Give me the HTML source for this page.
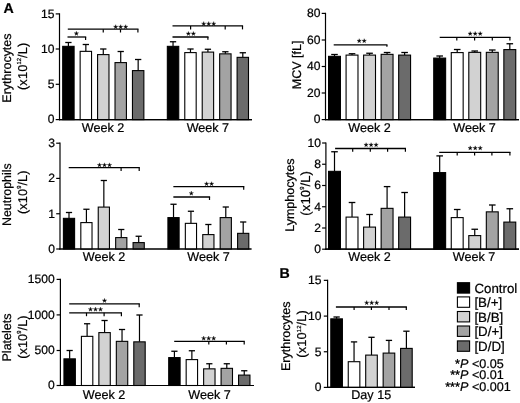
<!DOCTYPE html>
<html><head><meta charset="utf-8"><title>Figure</title>
<style>html,body{margin:0;padding:0;background:#fff;}body{width:520px;height:403px;overflow:hidden;font-family:"Liberation Sans",sans-serif;}</style>
</head><body>
<svg width="520" height="403" viewBox="0 0 520 403" style="display:block;font-family:'Liberation Sans',sans-serif;will-change:transform" fill="#000" text-rendering="geometricPrecision"><g stroke="#000" stroke-width="0.22">
<rect width="520" height="403" fill="#fff" stroke="none"/>
<line x1="59.50" y1="13.30" x2="59.50" y2="120.20" stroke="#000" stroke-width="1.2" stroke-linecap="butt"/>
<line x1="58.90" y1="119.60" x2="252.00" y2="119.60" stroke="#000" stroke-width="1.2" stroke-linecap="butt"/>
<line x1="55.70" y1="119.60" x2="59.50" y2="119.60" stroke="#000" stroke-width="1.2" stroke-linecap="butt"/>
<text x="54.50" y="123.35" font-size="12.1" text-anchor="end" font-weight="normal" font-style="normal">0</text>
<line x1="55.70" y1="84.30" x2="59.50" y2="84.30" stroke="#000" stroke-width="1.2" stroke-linecap="butt"/>
<text x="54.50" y="88.05" font-size="12.1" text-anchor="end" font-weight="normal" font-style="normal">5</text>
<line x1="55.70" y1="49.00" x2="59.50" y2="49.00" stroke="#000" stroke-width="1.2" stroke-linecap="butt"/>
<text x="54.50" y="52.75" font-size="12.1" text-anchor="end" font-weight="normal" font-style="normal">10</text>
<line x1="55.70" y1="13.90" x2="59.50" y2="13.90" stroke="#000" stroke-width="1.2" stroke-linecap="butt"/>
<text x="54.50" y="17.65" font-size="12.1" text-anchor="end" font-weight="normal" font-style="normal">15</text>
<line x1="68.40" y1="42.50" x2="68.40" y2="46.25" stroke="#000" stroke-width="1.2" stroke-linecap="butt"/>
<line x1="65.25" y1="42.50" x2="71.55" y2="42.50" stroke="#000" stroke-width="1.3" stroke-linecap="butt"/>
<rect x="62.70" y="46.35" width="11.40" height="73.25" fill="#000000" stroke="#000" stroke-width="1.1"/>
<line x1="85.84" y1="44.50" x2="85.84" y2="51.25" stroke="#000" stroke-width="1.2" stroke-linecap="butt"/>
<line x1="82.69" y1="44.50" x2="88.99" y2="44.50" stroke="#000" stroke-width="1.3" stroke-linecap="butt"/>
<rect x="80.14" y="51.35" width="11.40" height="68.25" fill="#ffffff" stroke="#000" stroke-width="1.1"/>
<line x1="103.28" y1="49.00" x2="103.28" y2="54.50" stroke="#000" stroke-width="1.2" stroke-linecap="butt"/>
<line x1="100.13" y1="49.00" x2="106.43" y2="49.00" stroke="#000" stroke-width="1.3" stroke-linecap="butt"/>
<rect x="97.58" y="54.60" width="11.40" height="65.00" fill="#d2d2d2" stroke="#000" stroke-width="1.1"/>
<line x1="120.72" y1="51.50" x2="120.72" y2="62.50" stroke="#000" stroke-width="1.2" stroke-linecap="butt"/>
<line x1="117.57" y1="51.50" x2="123.87" y2="51.50" stroke="#000" stroke-width="1.3" stroke-linecap="butt"/>
<rect x="115.02" y="62.60" width="11.40" height="57.00" fill="#a3a3a3" stroke="#000" stroke-width="1.1"/>
<line x1="138.16" y1="59.50" x2="138.16" y2="70.50" stroke="#000" stroke-width="1.2" stroke-linecap="butt"/>
<line x1="135.01" y1="59.50" x2="141.31" y2="59.50" stroke="#000" stroke-width="1.3" stroke-linecap="butt"/>
<rect x="132.46" y="70.60" width="11.40" height="49.00" fill="#6b6b6b" stroke="#000" stroke-width="1.1"/>
<line x1="173.04" y1="41.75" x2="173.04" y2="46.25" stroke="#000" stroke-width="1.2" stroke-linecap="butt"/>
<line x1="169.89" y1="41.75" x2="176.19" y2="41.75" stroke="#000" stroke-width="1.3" stroke-linecap="butt"/>
<rect x="167.34" y="46.35" width="11.40" height="73.25" fill="#000000" stroke="#000" stroke-width="1.1"/>
<line x1="190.48" y1="49.00" x2="190.48" y2="52.50" stroke="#000" stroke-width="1.2" stroke-linecap="butt"/>
<line x1="187.33" y1="49.00" x2="193.63" y2="49.00" stroke="#000" stroke-width="1.3" stroke-linecap="butt"/>
<rect x="184.78" y="52.60" width="11.40" height="67.00" fill="#ffffff" stroke="#000" stroke-width="1.1"/>
<line x1="207.92" y1="49.25" x2="207.92" y2="52.00" stroke="#000" stroke-width="1.2" stroke-linecap="butt"/>
<line x1="204.77" y1="49.25" x2="211.07" y2="49.25" stroke="#000" stroke-width="1.3" stroke-linecap="butt"/>
<rect x="202.22" y="52.10" width="11.40" height="67.50" fill="#d2d2d2" stroke="#000" stroke-width="1.1"/>
<line x1="225.36" y1="51.75" x2="225.36" y2="53.75" stroke="#000" stroke-width="1.2" stroke-linecap="butt"/>
<line x1="222.21" y1="51.75" x2="228.51" y2="51.75" stroke="#000" stroke-width="1.3" stroke-linecap="butt"/>
<rect x="219.66" y="53.85" width="11.40" height="65.75" fill="#a3a3a3" stroke="#000" stroke-width="1.1"/>
<line x1="242.80" y1="52.75" x2="242.80" y2="57.25" stroke="#000" stroke-width="1.2" stroke-linecap="butt"/>
<line x1="239.65" y1="52.75" x2="245.95" y2="52.75" stroke="#000" stroke-width="1.3" stroke-linecap="butt"/>
<rect x="237.10" y="57.35" width="11.40" height="62.25" fill="#6b6b6b" stroke="#000" stroke-width="1.1"/>
<line x1="58.90" y1="119.60" x2="252.00" y2="119.60" stroke="#000" stroke-width="1.2" stroke-linecap="butt"/>
<text x="103.10" y="131.95" font-size="12.6" text-anchor="middle" font-weight="normal" font-style="normal">Week 2</text>
<text x="207.90" y="131.95" font-size="12.6" text-anchor="middle" font-weight="normal" font-style="normal">Week 7</text>
<text x="10.70" y="68.10" font-size="12.45" text-anchor="middle" font-weight="normal" font-style="normal" transform="rotate(-90 10.70 68.10)">Erythrocytes</text>
<text x="26.80" y="66.30" font-size="12.799999999999999" text-anchor="middle" font-weight="normal" font-style="normal" transform="rotate(-90 26.80 66.30)" letter-spacing="0.15">(x10<tspan font-size="5.9" dy="-5.9" letter-spacing="0">12</tspan><tspan dy="5.9">/L)</tspan></text>
<line x1="67.80" y1="29.20" x2="138.50" y2="29.20" stroke="#000" stroke-width="1.3" stroke-linecap="butt"/>
<line x1="103.25" y1="29.20" x2="103.25" y2="32.50" stroke="#000" stroke-width="1.2" stroke-linecap="butt"/>
<line x1="120.50" y1="29.20" x2="120.50" y2="32.50" stroke="#000" stroke-width="1.2" stroke-linecap="butt"/>
<line x1="137.90" y1="29.20" x2="137.90" y2="32.50" stroke="#000" stroke-width="1.2" stroke-linecap="butt"/>
<polygon points="115.70,24.64 116.20,26.25 117.89,26.23 116.51,27.20 117.05,28.80 115.70,27.79 114.35,28.80 114.89,27.20 113.51,26.23 115.20,26.25" fill="#000" stroke="#000" stroke-width="0.3" stroke-linejoin="miter"/>
<polygon points="120.70,24.64 121.20,26.25 122.89,26.23 121.51,27.20 122.05,28.80 120.70,27.79 119.35,28.80 119.89,27.20 118.51,26.23 120.20,26.25" fill="#000" stroke="#000" stroke-width="0.3" stroke-linejoin="miter"/>
<polygon points="125.70,24.64 126.20,26.25 127.89,26.23 126.51,27.20 127.05,28.80 125.70,27.79 124.35,28.80 124.89,27.20 123.51,26.23 125.20,26.25" fill="#000" stroke="#000" stroke-width="0.3" stroke-linejoin="miter"/>
<line x1="67.50" y1="37.00" x2="86.20" y2="37.00" stroke="#000" stroke-width="1.3" stroke-linecap="butt"/>
<line x1="85.60" y1="37.00" x2="85.60" y2="40.00" stroke="#000" stroke-width="1.2" stroke-linecap="butt"/>
<polygon points="76.40,31.24 76.90,32.85 78.59,32.83 77.21,33.80 77.75,35.40 76.40,34.39 75.05,35.40 75.59,33.80 74.21,32.83 75.90,32.85" fill="#000" stroke="#000" stroke-width="0.3" stroke-linejoin="miter"/>
<line x1="172.50" y1="25.90" x2="243.10" y2="25.90" stroke="#000" stroke-width="1.3" stroke-linecap="butt"/>
<line x1="190.60" y1="25.90" x2="190.60" y2="29.40" stroke="#000" stroke-width="1.2" stroke-linecap="butt"/>
<line x1="225.20" y1="25.90" x2="225.20" y2="29.40" stroke="#000" stroke-width="1.2" stroke-linecap="butt"/>
<line x1="242.50" y1="25.90" x2="242.50" y2="29.40" stroke="#000" stroke-width="1.2" stroke-linecap="butt"/>
<polygon points="203.70,21.54 204.20,23.15 205.89,23.13 204.51,24.10 205.05,25.70 203.70,24.69 202.35,25.70 202.89,24.10 201.51,23.13 203.20,23.15" fill="#000" stroke="#000" stroke-width="0.3" stroke-linejoin="miter"/>
<polygon points="208.70,21.54 209.20,23.15 210.89,23.13 209.51,24.10 210.05,25.70 208.70,24.69 207.35,25.70 207.89,24.10 206.51,23.13 208.20,23.15" fill="#000" stroke="#000" stroke-width="0.3" stroke-linejoin="miter"/>
<polygon points="213.70,21.54 214.20,23.15 215.89,23.13 214.51,24.10 215.05,25.70 213.70,24.69 212.35,25.70 212.89,24.10 211.51,23.13 213.20,23.15" fill="#000" stroke="#000" stroke-width="0.3" stroke-linejoin="miter"/>
<line x1="172.50" y1="37.00" x2="208.50" y2="37.00" stroke="#000" stroke-width="1.3" stroke-linecap="butt"/>
<line x1="207.90" y1="37.00" x2="207.90" y2="39.80" stroke="#000" stroke-width="1.2" stroke-linecap="butt"/>
<polygon points="188.40,31.44 188.90,33.05 190.59,33.03 189.21,34.00 189.75,35.60 188.40,34.59 187.05,35.60 187.59,34.00 186.21,33.03 187.90,33.05" fill="#000" stroke="#000" stroke-width="0.3" stroke-linejoin="miter"/>
<polygon points="193.40,31.44 193.90,33.05 195.59,33.03 194.21,34.00 194.75,35.60 193.40,34.59 192.05,35.60 192.59,34.00 191.21,33.03 192.90,33.05" fill="#000" stroke="#000" stroke-width="0.3" stroke-linejoin="miter"/>
<text x="3.50" y="12.70" font-size="14.2" text-anchor="start" font-weight="bold" font-style="normal">A</text>
<line x1="325.50" y1="12.80" x2="325.50" y2="120.20" stroke="#000" stroke-width="1.2" stroke-linecap="butt"/>
<line x1="324.90" y1="119.60" x2="519.00" y2="119.60" stroke="#000" stroke-width="1.2" stroke-linecap="butt"/>
<line x1="321.70" y1="119.60" x2="325.50" y2="119.60" stroke="#000" stroke-width="1.2" stroke-linecap="butt"/>
<text x="320.50" y="123.35" font-size="12.1" text-anchor="end" font-weight="normal" font-style="normal">0</text>
<line x1="321.70" y1="93.00" x2="325.50" y2="93.00" stroke="#000" stroke-width="1.2" stroke-linecap="butt"/>
<text x="320.50" y="96.75" font-size="12.1" text-anchor="end" font-weight="normal" font-style="normal">20</text>
<line x1="321.70" y1="66.50" x2="325.50" y2="66.50" stroke="#000" stroke-width="1.2" stroke-linecap="butt"/>
<text x="320.50" y="70.25" font-size="12.1" text-anchor="end" font-weight="normal" font-style="normal">40</text>
<line x1="321.70" y1="40.00" x2="325.50" y2="40.00" stroke="#000" stroke-width="1.2" stroke-linecap="butt"/>
<text x="320.50" y="43.75" font-size="12.1" text-anchor="end" font-weight="normal" font-style="normal">60</text>
<line x1="321.70" y1="13.40" x2="325.50" y2="13.40" stroke="#000" stroke-width="1.2" stroke-linecap="butt"/>
<text x="320.50" y="17.15" font-size="12.1" text-anchor="end" font-weight="normal" font-style="normal">80</text>
<line x1="334.50" y1="54.50" x2="334.50" y2="56.25" stroke="#000" stroke-width="1.2" stroke-linecap="butt"/>
<line x1="331.20" y1="54.50" x2="337.80" y2="54.50" stroke="#000" stroke-width="1.3" stroke-linecap="butt"/>
<rect x="328.55" y="56.35" width="11.90" height="63.25" fill="#000000" stroke="#000" stroke-width="1.1"/>
<line x1="352.03" y1="53.75" x2="352.03" y2="55.00" stroke="#000" stroke-width="1.2" stroke-linecap="butt"/>
<line x1="348.73" y1="53.75" x2="355.33" y2="53.75" stroke="#000" stroke-width="1.3" stroke-linecap="butt"/>
<rect x="346.08" y="55.10" width="11.90" height="64.50" fill="#ffffff" stroke="#000" stroke-width="1.1"/>
<line x1="369.56" y1="53.25" x2="369.56" y2="55.00" stroke="#000" stroke-width="1.2" stroke-linecap="butt"/>
<line x1="366.26" y1="53.25" x2="372.86" y2="53.25" stroke="#000" stroke-width="1.3" stroke-linecap="butt"/>
<rect x="363.61" y="55.10" width="11.90" height="64.50" fill="#d2d2d2" stroke="#000" stroke-width="1.1"/>
<line x1="387.09" y1="52.50" x2="387.09" y2="54.25" stroke="#000" stroke-width="1.2" stroke-linecap="butt"/>
<line x1="383.79" y1="52.50" x2="390.39" y2="52.50" stroke="#000" stroke-width="1.3" stroke-linecap="butt"/>
<rect x="381.14" y="54.35" width="11.90" height="65.25" fill="#a3a3a3" stroke="#000" stroke-width="1.1"/>
<line x1="404.62" y1="52.50" x2="404.62" y2="55.00" stroke="#000" stroke-width="1.2" stroke-linecap="butt"/>
<line x1="401.32" y1="52.50" x2="407.92" y2="52.50" stroke="#000" stroke-width="1.3" stroke-linecap="butt"/>
<rect x="398.67" y="55.10" width="11.90" height="64.50" fill="#6b6b6b" stroke="#000" stroke-width="1.1"/>
<line x1="439.68" y1="56.00" x2="439.68" y2="58.00" stroke="#000" stroke-width="1.2" stroke-linecap="butt"/>
<line x1="436.38" y1="56.00" x2="442.98" y2="56.00" stroke="#000" stroke-width="1.3" stroke-linecap="butt"/>
<rect x="433.73" y="58.10" width="11.90" height="61.50" fill="#000000" stroke="#000" stroke-width="1.1"/>
<line x1="457.21" y1="49.50" x2="457.21" y2="52.50" stroke="#000" stroke-width="1.2" stroke-linecap="butt"/>
<line x1="453.91" y1="49.50" x2="460.51" y2="49.50" stroke="#000" stroke-width="1.3" stroke-linecap="butt"/>
<rect x="451.26" y="52.60" width="11.90" height="67.00" fill="#ffffff" stroke="#000" stroke-width="1.1"/>
<line x1="474.74" y1="51.00" x2="474.74" y2="52.25" stroke="#000" stroke-width="1.2" stroke-linecap="butt"/>
<line x1="471.44" y1="51.00" x2="478.04" y2="51.00" stroke="#000" stroke-width="1.3" stroke-linecap="butt"/>
<rect x="468.79" y="52.35" width="11.90" height="67.25" fill="#d2d2d2" stroke="#000" stroke-width="1.1"/>
<line x1="492.27" y1="50.00" x2="492.27" y2="52.25" stroke="#000" stroke-width="1.2" stroke-linecap="butt"/>
<line x1="488.97" y1="50.00" x2="495.57" y2="50.00" stroke="#000" stroke-width="1.3" stroke-linecap="butt"/>
<rect x="486.32" y="52.35" width="11.90" height="67.25" fill="#a3a3a3" stroke="#000" stroke-width="1.1"/>
<line x1="509.80" y1="43.75" x2="509.80" y2="49.50" stroke="#000" stroke-width="1.2" stroke-linecap="butt"/>
<line x1="506.50" y1="43.75" x2="513.10" y2="43.75" stroke="#000" stroke-width="1.3" stroke-linecap="butt"/>
<rect x="503.85" y="49.60" width="11.90" height="70.00" fill="#6b6b6b" stroke="#000" stroke-width="1.1"/>
<line x1="324.90" y1="119.60" x2="519.00" y2="119.60" stroke="#000" stroke-width="1.2" stroke-linecap="butt"/>
<text x="369.60" y="131.95" font-size="12.6" text-anchor="middle" font-weight="normal" font-style="normal">Week 2</text>
<text x="474.50" y="131.95" font-size="12.6" text-anchor="middle" font-weight="normal" font-style="normal">Week 7</text>
<text x="301.00" y="64.90" font-size="12.5" text-anchor="middle" font-weight="normal" font-style="normal" transform="rotate(-90 301.00 64.90)">MCV [fL]</text>
<line x1="333.70" y1="44.90" x2="387.50" y2="44.90" stroke="#000" stroke-width="1.3" stroke-linecap="butt"/>
<line x1="386.90" y1="44.90" x2="386.90" y2="46.70" stroke="#000" stroke-width="1.2" stroke-linecap="butt"/>
<polygon points="359.20,38.64 359.70,40.25 361.39,40.23 360.01,41.20 360.55,42.80 359.20,41.79 357.85,42.80 358.39,41.20 357.01,40.23 358.70,40.25" fill="#000" stroke="#000" stroke-width="0.3" stroke-linejoin="miter"/>
<polygon points="364.20,38.64 364.70,40.25 366.39,40.23 365.01,41.20 365.55,42.80 364.20,41.79 362.85,42.80 363.39,41.20 362.01,40.23 363.70,40.25" fill="#000" stroke="#000" stroke-width="0.3" stroke-linejoin="miter"/>
<line x1="439.70" y1="37.30" x2="510.50" y2="37.30" stroke="#000" stroke-width="1.3" stroke-linecap="butt"/>
<line x1="456.80" y1="37.30" x2="456.80" y2="40.50" stroke="#000" stroke-width="1.2" stroke-linecap="butt"/>
<line x1="474.60" y1="37.30" x2="474.60" y2="40.50" stroke="#000" stroke-width="1.2" stroke-linecap="butt"/>
<line x1="492.30" y1="37.30" x2="492.30" y2="40.50" stroke="#000" stroke-width="1.2" stroke-linecap="butt"/>
<line x1="509.90" y1="37.30" x2="509.90" y2="40.50" stroke="#000" stroke-width="1.2" stroke-linecap="butt"/>
<polygon points="470.20,31.44 470.70,33.05 472.39,33.03 471.01,34.00 471.55,35.60 470.20,34.59 468.85,35.60 469.39,34.00 468.01,33.03 469.70,33.05" fill="#000" stroke="#000" stroke-width="0.3" stroke-linejoin="miter"/>
<polygon points="475.20,31.44 475.70,33.05 477.39,33.03 476.01,34.00 476.55,35.60 475.20,34.59 473.85,35.60 474.39,34.00 473.01,33.03 474.70,33.05" fill="#000" stroke="#000" stroke-width="0.3" stroke-linejoin="miter"/>
<polygon points="480.20,31.44 480.70,33.05 482.39,33.03 481.01,34.00 481.55,35.60 480.20,34.59 478.85,35.60 479.39,34.00 478.01,33.03 479.70,33.05" fill="#000" stroke="#000" stroke-width="0.3" stroke-linejoin="miter"/>
<line x1="60.00" y1="142.60" x2="60.00" y2="249.60" stroke="#000" stroke-width="1.2" stroke-linecap="butt"/>
<line x1="59.40" y1="249.00" x2="251.50" y2="249.00" stroke="#000" stroke-width="1.2" stroke-linecap="butt"/>
<line x1="56.20" y1="249.00" x2="60.00" y2="249.00" stroke="#000" stroke-width="1.2" stroke-linecap="butt"/>
<text x="55.00" y="252.75" font-size="12.1" text-anchor="end" font-weight="normal" font-style="normal">0</text>
<line x1="56.20" y1="213.75" x2="60.00" y2="213.75" stroke="#000" stroke-width="1.2" stroke-linecap="butt"/>
<text x="55.00" y="217.50" font-size="12.1" text-anchor="end" font-weight="normal" font-style="normal">1</text>
<line x1="56.20" y1="178.40" x2="60.00" y2="178.40" stroke="#000" stroke-width="1.2" stroke-linecap="butt"/>
<text x="55.00" y="182.15" font-size="12.1" text-anchor="end" font-weight="normal" font-style="normal">2</text>
<line x1="56.20" y1="143.20" x2="60.00" y2="143.20" stroke="#000" stroke-width="1.2" stroke-linecap="butt"/>
<text x="55.00" y="146.95" font-size="12.1" text-anchor="end" font-weight="normal" font-style="normal">3</text>
<line x1="69.00" y1="212.50" x2="69.00" y2="218.25" stroke="#000" stroke-width="1.2" stroke-linecap="butt"/>
<line x1="65.90" y1="212.50" x2="72.10" y2="212.50" stroke="#000" stroke-width="1.3" stroke-linecap="butt"/>
<rect x="63.40" y="218.35" width="11.20" height="30.65" fill="#000000" stroke="#000" stroke-width="1.1"/>
<line x1="86.42" y1="209.25" x2="86.42" y2="222.50" stroke="#000" stroke-width="1.2" stroke-linecap="butt"/>
<line x1="83.32" y1="209.25" x2="89.52" y2="209.25" stroke="#000" stroke-width="1.3" stroke-linecap="butt"/>
<rect x="80.82" y="222.60" width="11.20" height="26.40" fill="#ffffff" stroke="#000" stroke-width="1.1"/>
<line x1="103.84" y1="180.50" x2="103.84" y2="207.00" stroke="#000" stroke-width="1.2" stroke-linecap="butt"/>
<line x1="100.74" y1="180.50" x2="106.94" y2="180.50" stroke="#000" stroke-width="1.3" stroke-linecap="butt"/>
<rect x="98.24" y="207.10" width="11.20" height="41.90" fill="#d2d2d2" stroke="#000" stroke-width="1.1"/>
<line x1="121.26" y1="229.50" x2="121.26" y2="237.50" stroke="#000" stroke-width="1.2" stroke-linecap="butt"/>
<line x1="118.16" y1="229.50" x2="124.36" y2="229.50" stroke="#000" stroke-width="1.3" stroke-linecap="butt"/>
<rect x="115.66" y="237.60" width="11.20" height="11.40" fill="#a3a3a3" stroke="#000" stroke-width="1.1"/>
<line x1="138.68" y1="236.25" x2="138.68" y2="242.50" stroke="#000" stroke-width="1.2" stroke-linecap="butt"/>
<line x1="135.58" y1="236.25" x2="141.78" y2="236.25" stroke="#000" stroke-width="1.3" stroke-linecap="butt"/>
<rect x="133.08" y="242.60" width="11.20" height="6.40" fill="#6b6b6b" stroke="#000" stroke-width="1.1"/>
<line x1="173.52" y1="204.25" x2="173.52" y2="217.50" stroke="#000" stroke-width="1.2" stroke-linecap="butt"/>
<line x1="170.42" y1="204.25" x2="176.62" y2="204.25" stroke="#000" stroke-width="1.3" stroke-linecap="butt"/>
<rect x="167.92" y="217.60" width="11.20" height="31.40" fill="#000000" stroke="#000" stroke-width="1.1"/>
<line x1="190.94" y1="211.25" x2="190.94" y2="223.25" stroke="#000" stroke-width="1.2" stroke-linecap="butt"/>
<line x1="187.84" y1="211.25" x2="194.04" y2="211.25" stroke="#000" stroke-width="1.3" stroke-linecap="butt"/>
<rect x="185.34" y="223.35" width="11.20" height="25.65" fill="#ffffff" stroke="#000" stroke-width="1.1"/>
<line x1="208.36" y1="224.50" x2="208.36" y2="234.50" stroke="#000" stroke-width="1.2" stroke-linecap="butt"/>
<line x1="205.26" y1="224.50" x2="211.46" y2="224.50" stroke="#000" stroke-width="1.3" stroke-linecap="butt"/>
<rect x="202.76" y="234.60" width="11.20" height="14.40" fill="#d2d2d2" stroke="#000" stroke-width="1.1"/>
<line x1="225.78" y1="207.00" x2="225.78" y2="217.50" stroke="#000" stroke-width="1.2" stroke-linecap="butt"/>
<line x1="222.68" y1="207.00" x2="228.88" y2="207.00" stroke="#000" stroke-width="1.3" stroke-linecap="butt"/>
<rect x="220.18" y="217.60" width="11.20" height="31.40" fill="#a3a3a3" stroke="#000" stroke-width="1.1"/>
<line x1="243.20" y1="222.00" x2="243.20" y2="233.25" stroke="#000" stroke-width="1.2" stroke-linecap="butt"/>
<line x1="240.10" y1="222.00" x2="246.30" y2="222.00" stroke="#000" stroke-width="1.3" stroke-linecap="butt"/>
<rect x="237.60" y="233.35" width="11.20" height="15.65" fill="#6b6b6b" stroke="#000" stroke-width="1.1"/>
<line x1="59.40" y1="249.00" x2="251.50" y2="249.00" stroke="#000" stroke-width="1.2" stroke-linecap="butt"/>
<text x="104.00" y="261.35" font-size="12.6" text-anchor="middle" font-weight="normal" font-style="normal">Week 2</text>
<text x="208.50" y="261.35" font-size="12.6" text-anchor="middle" font-weight="normal" font-style="normal">Week 7</text>
<text x="11.40" y="194.70" font-size="12.4" text-anchor="middle" font-weight="normal" font-style="normal" transform="rotate(-90 11.40 194.70)">Neutrophils</text>
<text x="26.80" y="192.20" font-size="12.7" text-anchor="middle" font-weight="normal" font-style="normal" transform="rotate(-90 26.80 192.20)" letter-spacing="0.1">(x10<tspan font-size="5.9" dy="-5.9" letter-spacing="0">9</tspan><tspan dy="5.9">/L)</tspan></text>
<line x1="68.70" y1="167.60" x2="139.80" y2="167.60" stroke="#000" stroke-width="1.3" stroke-linecap="butt"/>
<line x1="121.10" y1="167.60" x2="121.10" y2="170.90" stroke="#000" stroke-width="1.2" stroke-linecap="butt"/>
<line x1="139.20" y1="167.60" x2="139.20" y2="170.90" stroke="#000" stroke-width="1.2" stroke-linecap="butt"/>
<polygon points="99.50,162.84 100.00,164.45 101.69,164.43 100.31,165.40 100.85,167.00 99.50,165.99 98.15,167.00 98.69,165.40 97.31,164.43 99.00,164.45" fill="#000" stroke="#000" stroke-width="0.3" stroke-linejoin="miter"/>
<polygon points="104.50,162.84 105.00,164.45 106.69,164.43 105.31,165.40 105.85,167.00 104.50,165.99 103.15,167.00 103.69,165.40 102.31,164.43 104.00,164.45" fill="#000" stroke="#000" stroke-width="0.3" stroke-linejoin="miter"/>
<polygon points="109.50,162.84 110.00,164.45 111.69,164.43 110.31,165.40 110.85,167.00 109.50,165.99 108.15,167.00 108.69,165.40 107.31,164.43 109.00,164.45" fill="#000" stroke="#000" stroke-width="0.3" stroke-linejoin="miter"/>
<line x1="173.35" y1="186.60" x2="244.30" y2="186.60" stroke="#000" stroke-width="1.3" stroke-linecap="butt"/>
<line x1="243.70" y1="186.60" x2="243.70" y2="189.70" stroke="#000" stroke-width="1.2" stroke-linecap="butt"/>
<polygon points="206.60,181.64 207.10,183.25 208.79,183.23 207.41,184.20 207.95,185.80 206.60,184.79 205.25,185.80 205.79,184.20 204.41,183.23 206.10,183.25" fill="#000" stroke="#000" stroke-width="0.3" stroke-linejoin="miter"/>
<polygon points="211.60,181.64 212.10,183.25 213.79,183.23 212.41,184.20 212.95,185.80 211.60,184.79 210.25,185.80 210.79,184.20 209.41,183.23 211.10,183.25" fill="#000" stroke="#000" stroke-width="0.3" stroke-linejoin="miter"/>
<line x1="173.35" y1="197.00" x2="210.10" y2="197.00" stroke="#000" stroke-width="1.3" stroke-linecap="butt"/>
<line x1="209.50" y1="197.00" x2="209.50" y2="200.00" stroke="#000" stroke-width="1.2" stroke-linecap="butt"/>
<polygon points="191.30,191.04 191.80,192.65 193.49,192.63 192.11,193.60 192.65,195.20 191.30,194.19 189.95,195.20 190.49,193.60 189.11,192.63 190.80,192.65" fill="#000" stroke="#000" stroke-width="0.3" stroke-linejoin="miter"/>
<line x1="325.90" y1="142.40" x2="325.90" y2="249.80" stroke="#000" stroke-width="1.2" stroke-linecap="butt"/>
<line x1="325.30" y1="249.20" x2="519.00" y2="249.20" stroke="#000" stroke-width="1.2" stroke-linecap="butt"/>
<line x1="322.10" y1="249.20" x2="325.90" y2="249.20" stroke="#000" stroke-width="1.2" stroke-linecap="butt"/>
<text x="320.90" y="252.95" font-size="12.1" text-anchor="end" font-weight="normal" font-style="normal">0</text>
<line x1="322.10" y1="228.00" x2="325.90" y2="228.00" stroke="#000" stroke-width="1.2" stroke-linecap="butt"/>
<text x="320.90" y="231.75" font-size="12.1" text-anchor="end" font-weight="normal" font-style="normal">2</text>
<line x1="322.10" y1="206.75" x2="325.90" y2="206.75" stroke="#000" stroke-width="1.2" stroke-linecap="butt"/>
<text x="320.90" y="210.50" font-size="12.1" text-anchor="end" font-weight="normal" font-style="normal">4</text>
<line x1="322.10" y1="185.50" x2="325.90" y2="185.50" stroke="#000" stroke-width="1.2" stroke-linecap="butt"/>
<text x="320.90" y="189.25" font-size="12.1" text-anchor="end" font-weight="normal" font-style="normal">6</text>
<line x1="322.10" y1="164.25" x2="325.90" y2="164.25" stroke="#000" stroke-width="1.2" stroke-linecap="butt"/>
<text x="320.90" y="168.00" font-size="12.1" text-anchor="end" font-weight="normal" font-style="normal">8</text>
<line x1="322.10" y1="143.00" x2="325.90" y2="143.00" stroke="#000" stroke-width="1.2" stroke-linecap="butt"/>
<text x="320.90" y="146.75" font-size="12.1" text-anchor="end" font-weight="normal" font-style="normal">10</text>
<line x1="334.50" y1="151.75" x2="334.50" y2="171.25" stroke="#000" stroke-width="1.2" stroke-linecap="butt"/>
<line x1="331.20" y1="151.75" x2="337.80" y2="151.75" stroke="#000" stroke-width="1.3" stroke-linecap="butt"/>
<rect x="328.55" y="171.35" width="11.90" height="77.85" fill="#000000" stroke="#000" stroke-width="1.1"/>
<line x1="352.03" y1="202.50" x2="352.03" y2="217.00" stroke="#000" stroke-width="1.2" stroke-linecap="butt"/>
<line x1="348.73" y1="202.50" x2="355.33" y2="202.50" stroke="#000" stroke-width="1.3" stroke-linecap="butt"/>
<rect x="346.08" y="217.10" width="11.90" height="32.10" fill="#ffffff" stroke="#000" stroke-width="1.1"/>
<line x1="369.56" y1="214.50" x2="369.56" y2="227.00" stroke="#000" stroke-width="1.2" stroke-linecap="butt"/>
<line x1="366.26" y1="214.50" x2="372.86" y2="214.50" stroke="#000" stroke-width="1.3" stroke-linecap="butt"/>
<rect x="363.61" y="227.10" width="11.90" height="22.10" fill="#d2d2d2" stroke="#000" stroke-width="1.1"/>
<line x1="387.09" y1="186.60" x2="387.09" y2="208.25" stroke="#000" stroke-width="1.2" stroke-linecap="butt"/>
<line x1="383.79" y1="186.60" x2="390.39" y2="186.60" stroke="#000" stroke-width="1.3" stroke-linecap="butt"/>
<rect x="381.14" y="208.35" width="11.90" height="40.85" fill="#a3a3a3" stroke="#000" stroke-width="1.1"/>
<line x1="404.62" y1="192.50" x2="404.62" y2="217.00" stroke="#000" stroke-width="1.2" stroke-linecap="butt"/>
<line x1="401.32" y1="192.50" x2="407.92" y2="192.50" stroke="#000" stroke-width="1.3" stroke-linecap="butt"/>
<rect x="398.67" y="217.10" width="11.90" height="32.10" fill="#6b6b6b" stroke="#000" stroke-width="1.1"/>
<line x1="439.68" y1="155.90" x2="439.68" y2="172.50" stroke="#000" stroke-width="1.2" stroke-linecap="butt"/>
<line x1="436.38" y1="155.90" x2="442.98" y2="155.90" stroke="#000" stroke-width="1.3" stroke-linecap="butt"/>
<rect x="433.73" y="172.60" width="11.90" height="76.60" fill="#000000" stroke="#000" stroke-width="1.1"/>
<line x1="457.21" y1="209.50" x2="457.21" y2="217.50" stroke="#000" stroke-width="1.2" stroke-linecap="butt"/>
<line x1="453.91" y1="209.50" x2="460.51" y2="209.50" stroke="#000" stroke-width="1.3" stroke-linecap="butt"/>
<rect x="451.26" y="217.60" width="11.90" height="31.60" fill="#ffffff" stroke="#000" stroke-width="1.1"/>
<line x1="474.74" y1="229.25" x2="474.74" y2="235.50" stroke="#000" stroke-width="1.2" stroke-linecap="butt"/>
<line x1="471.44" y1="229.25" x2="478.04" y2="229.25" stroke="#000" stroke-width="1.3" stroke-linecap="butt"/>
<rect x="468.79" y="235.60" width="11.90" height="13.60" fill="#d2d2d2" stroke="#000" stroke-width="1.1"/>
<line x1="492.27" y1="205.00" x2="492.27" y2="211.75" stroke="#000" stroke-width="1.2" stroke-linecap="butt"/>
<line x1="488.97" y1="205.00" x2="495.57" y2="205.00" stroke="#000" stroke-width="1.3" stroke-linecap="butt"/>
<rect x="486.32" y="211.85" width="11.90" height="37.35" fill="#a3a3a3" stroke="#000" stroke-width="1.1"/>
<line x1="509.80" y1="208.75" x2="509.80" y2="222.00" stroke="#000" stroke-width="1.2" stroke-linecap="butt"/>
<line x1="506.50" y1="208.75" x2="513.10" y2="208.75" stroke="#000" stroke-width="1.3" stroke-linecap="butt"/>
<rect x="503.85" y="222.10" width="11.90" height="27.10" fill="#6b6b6b" stroke="#000" stroke-width="1.1"/>
<line x1="325.30" y1="249.20" x2="519.00" y2="249.20" stroke="#000" stroke-width="1.2" stroke-linecap="butt"/>
<text x="369.60" y="261.35" font-size="12.6" text-anchor="middle" font-weight="normal" font-style="normal">Week 2</text>
<text x="474.00" y="261.35" font-size="12.6" text-anchor="middle" font-weight="normal" font-style="normal">Week 7</text>
<text x="293.60" y="195.20" font-size="12.5" text-anchor="middle" font-weight="normal" font-style="normal" transform="rotate(-90 293.60 195.20)">Lymphocytes</text>
<text x="310.00" y="193.30" font-size="13.1" text-anchor="middle" font-weight="normal" font-style="normal" transform="rotate(-90 310.00 193.30)" letter-spacing="0.1">(x10<tspan font-size="5.9" dy="-5.9" letter-spacing="0">9</tspan><tspan dy="5.9">/L)</tspan></text>
<line x1="335.10" y1="148.50" x2="406.00" y2="148.50" stroke="#000" stroke-width="1.3" stroke-linecap="butt"/>
<line x1="352.70" y1="148.50" x2="352.70" y2="151.80" stroke="#000" stroke-width="1.2" stroke-linecap="butt"/>
<line x1="370.30" y1="148.50" x2="370.30" y2="151.80" stroke="#000" stroke-width="1.2" stroke-linecap="butt"/>
<line x1="387.60" y1="148.50" x2="387.60" y2="151.80" stroke="#000" stroke-width="1.2" stroke-linecap="butt"/>
<line x1="405.40" y1="148.50" x2="405.40" y2="151.80" stroke="#000" stroke-width="1.2" stroke-linecap="butt"/>
<polygon points="366.10,142.64 366.60,144.25 368.29,144.23 366.91,145.20 367.45,146.80 366.10,145.79 364.75,146.80 365.29,145.20 363.91,144.23 365.60,144.25" fill="#000" stroke="#000" stroke-width="0.3" stroke-linejoin="miter"/>
<polygon points="371.10,142.64 371.60,144.25 373.29,144.23 371.91,145.20 372.45,146.80 371.10,145.79 369.75,146.80 370.29,145.20 368.91,144.23 370.60,144.25" fill="#000" stroke="#000" stroke-width="0.3" stroke-linejoin="miter"/>
<polygon points="376.10,142.64 376.60,144.25 378.29,144.23 376.91,145.20 377.45,146.80 376.10,145.79 374.75,146.80 375.29,145.20 373.91,144.23 375.60,144.25" fill="#000" stroke="#000" stroke-width="0.3" stroke-linejoin="miter"/>
<line x1="439.20" y1="152.30" x2="510.50" y2="152.30" stroke="#000" stroke-width="1.3" stroke-linecap="butt"/>
<line x1="457.20" y1="152.30" x2="457.20" y2="155.40" stroke="#000" stroke-width="1.2" stroke-linecap="butt"/>
<line x1="474.60" y1="152.30" x2="474.60" y2="155.40" stroke="#000" stroke-width="1.2" stroke-linecap="butt"/>
<line x1="491.90" y1="152.30" x2="491.90" y2="155.40" stroke="#000" stroke-width="1.2" stroke-linecap="butt"/>
<line x1="509.90" y1="152.30" x2="509.90" y2="155.40" stroke="#000" stroke-width="1.2" stroke-linecap="butt"/>
<polygon points="470.20,145.84 470.70,147.45 472.39,147.43 471.01,148.40 471.55,150.00 470.20,148.99 468.85,150.00 469.39,148.40 468.01,147.43 469.70,147.45" fill="#000" stroke="#000" stroke-width="0.3" stroke-linejoin="miter"/>
<polygon points="475.20,145.84 475.70,147.45 477.39,147.43 476.01,148.40 476.55,150.00 475.20,148.99 473.85,150.00 474.39,148.40 473.01,147.43 474.70,147.45" fill="#000" stroke="#000" stroke-width="0.3" stroke-linejoin="miter"/>
<polygon points="480.20,145.84 480.70,147.45 482.39,147.43 481.01,148.40 481.55,150.00 480.20,148.99 478.85,150.00 479.39,148.40 478.01,147.43 479.70,147.45" fill="#000" stroke="#000" stroke-width="0.3" stroke-linejoin="miter"/>
<line x1="60.40" y1="278.80" x2="60.40" y2="386.10" stroke="#000" stroke-width="1.2" stroke-linecap="butt"/>
<line x1="59.80" y1="385.50" x2="254.00" y2="385.50" stroke="#000" stroke-width="1.2" stroke-linecap="butt"/>
<line x1="56.60" y1="385.50" x2="60.40" y2="385.50" stroke="#000" stroke-width="1.2" stroke-linecap="butt"/>
<text x="54.70" y="389.25" font-size="12.1" text-anchor="end" font-weight="normal" font-style="normal">0</text>
<line x1="56.60" y1="350.50" x2="60.40" y2="350.50" stroke="#000" stroke-width="1.2" stroke-linecap="butt"/>
<text x="54.70" y="354.25" font-size="12.1" text-anchor="end" font-weight="normal" font-style="normal">500</text>
<line x1="56.60" y1="314.90" x2="60.40" y2="314.90" stroke="#000" stroke-width="1.2" stroke-linecap="butt"/>
<text x="54.70" y="318.65" font-size="12.1" text-anchor="end" font-weight="normal" font-style="normal">1000</text>
<line x1="56.60" y1="279.40" x2="60.40" y2="279.40" stroke="#000" stroke-width="1.2" stroke-linecap="butt"/>
<text x="54.70" y="283.15" font-size="12.1" text-anchor="end" font-weight="normal" font-style="normal">1500</text>
<line x1="69.65" y1="350.50" x2="69.65" y2="358.75" stroke="#000" stroke-width="1.2" stroke-linecap="butt"/>
<line x1="66.55" y1="350.50" x2="72.75" y2="350.50" stroke="#000" stroke-width="1.3" stroke-linecap="butt"/>
<rect x="63.95" y="358.85" width="11.40" height="26.65" fill="#000000" stroke="#000" stroke-width="1.1"/>
<line x1="87.11" y1="323.75" x2="87.11" y2="336.25" stroke="#000" stroke-width="1.2" stroke-linecap="butt"/>
<line x1="84.01" y1="323.75" x2="90.21" y2="323.75" stroke="#000" stroke-width="1.3" stroke-linecap="butt"/>
<rect x="81.41" y="336.35" width="11.40" height="49.15" fill="#ffffff" stroke="#000" stroke-width="1.1"/>
<line x1="104.57" y1="320.50" x2="104.57" y2="332.50" stroke="#000" stroke-width="1.2" stroke-linecap="butt"/>
<line x1="101.47" y1="320.50" x2="107.67" y2="320.50" stroke="#000" stroke-width="1.3" stroke-linecap="butt"/>
<rect x="98.87" y="332.60" width="11.40" height="52.90" fill="#d2d2d2" stroke="#000" stroke-width="1.1"/>
<line x1="122.03" y1="329.50" x2="122.03" y2="341.25" stroke="#000" stroke-width="1.2" stroke-linecap="butt"/>
<line x1="118.93" y1="329.50" x2="125.13" y2="329.50" stroke="#000" stroke-width="1.3" stroke-linecap="butt"/>
<rect x="116.33" y="341.35" width="11.40" height="44.15" fill="#a3a3a3" stroke="#000" stroke-width="1.1"/>
<line x1="139.49" y1="315.00" x2="139.49" y2="341.75" stroke="#000" stroke-width="1.2" stroke-linecap="butt"/>
<line x1="136.39" y1="315.00" x2="142.59" y2="315.00" stroke="#000" stroke-width="1.3" stroke-linecap="butt"/>
<rect x="133.79" y="341.85" width="11.40" height="43.65" fill="#6b6b6b" stroke="#000" stroke-width="1.1"/>
<line x1="174.41" y1="351.25" x2="174.41" y2="357.50" stroke="#000" stroke-width="1.2" stroke-linecap="butt"/>
<line x1="171.31" y1="351.25" x2="177.51" y2="351.25" stroke="#000" stroke-width="1.3" stroke-linecap="butt"/>
<rect x="168.71" y="357.60" width="11.40" height="27.90" fill="#000000" stroke="#000" stroke-width="1.1"/>
<line x1="191.87" y1="350.75" x2="191.87" y2="359.50" stroke="#000" stroke-width="1.2" stroke-linecap="butt"/>
<line x1="188.77" y1="350.75" x2="194.97" y2="350.75" stroke="#000" stroke-width="1.3" stroke-linecap="butt"/>
<rect x="186.17" y="359.60" width="11.40" height="25.90" fill="#ffffff" stroke="#000" stroke-width="1.1"/>
<line x1="209.33" y1="363.75" x2="209.33" y2="368.75" stroke="#000" stroke-width="1.2" stroke-linecap="butt"/>
<line x1="206.23" y1="363.75" x2="212.43" y2="363.75" stroke="#000" stroke-width="1.3" stroke-linecap="butt"/>
<rect x="203.63" y="368.85" width="11.40" height="16.65" fill="#d2d2d2" stroke="#000" stroke-width="1.1"/>
<line x1="226.79" y1="363.75" x2="226.79" y2="368.25" stroke="#000" stroke-width="1.2" stroke-linecap="butt"/>
<line x1="223.69" y1="363.75" x2="229.89" y2="363.75" stroke="#000" stroke-width="1.3" stroke-linecap="butt"/>
<rect x="221.09" y="368.35" width="11.40" height="17.15" fill="#a3a3a3" stroke="#000" stroke-width="1.1"/>
<line x1="244.25" y1="370.75" x2="244.25" y2="375.00" stroke="#000" stroke-width="1.2" stroke-linecap="butt"/>
<line x1="241.15" y1="370.75" x2="247.35" y2="370.75" stroke="#000" stroke-width="1.3" stroke-linecap="butt"/>
<rect x="238.55" y="375.10" width="11.40" height="10.40" fill="#6b6b6b" stroke="#000" stroke-width="1.1"/>
<line x1="59.80" y1="385.50" x2="254.00" y2="385.50" stroke="#000" stroke-width="1.2" stroke-linecap="butt"/>
<text x="104.10" y="398.55" font-size="12.6" text-anchor="middle" font-weight="normal" font-style="normal">Week 2</text>
<text x="209.50" y="398.55" font-size="12.6" text-anchor="middle" font-weight="normal" font-style="normal">Week 7</text>
<text x="11.40" y="337.50" font-size="12.5" text-anchor="middle" font-weight="normal" font-style="normal" transform="rotate(-90 11.40 337.50)">Platelets</text>
<text x="26.80" y="337.10" font-size="12.7" text-anchor="middle" font-weight="normal" font-style="normal" transform="rotate(-90 26.80 337.10)" letter-spacing="0.1">(x10<tspan font-size="5.9" dy="-5.9" letter-spacing="0">9</tspan><tspan dy="5.9">/L)</tspan></text>
<line x1="69.20" y1="303.80" x2="139.80" y2="303.80" stroke="#000" stroke-width="1.3" stroke-linecap="butt"/>
<line x1="139.20" y1="303.80" x2="139.20" y2="307.30" stroke="#000" stroke-width="1.2" stroke-linecap="butt"/>
<polygon points="104.50,298.34 105.00,299.95 106.69,299.93 105.31,300.90 105.85,302.50 104.50,301.49 103.15,302.50 103.69,300.90 102.31,299.93 104.00,299.95" fill="#000" stroke="#000" stroke-width="0.3" stroke-linejoin="miter"/>
<line x1="69.20" y1="312.80" x2="122.00" y2="312.80" stroke="#000" stroke-width="1.3" stroke-linecap="butt"/>
<line x1="86.50" y1="312.80" x2="86.50" y2="316.20" stroke="#000" stroke-width="1.2" stroke-linecap="butt"/>
<line x1="104.10" y1="312.80" x2="104.10" y2="316.20" stroke="#000" stroke-width="1.2" stroke-linecap="butt"/>
<line x1="121.40" y1="312.80" x2="121.40" y2="316.20" stroke="#000" stroke-width="1.2" stroke-linecap="butt"/>
<polygon points="90.50,307.04 91.00,308.65 92.69,308.63 91.31,309.60 91.85,311.20 90.50,310.19 89.15,311.20 89.69,309.60 88.31,308.63 90.00,308.65" fill="#000" stroke="#000" stroke-width="0.3" stroke-linejoin="miter"/>
<polygon points="95.50,307.04 96.00,308.65 97.69,308.63 96.31,309.60 96.85,311.20 95.50,310.19 94.15,311.20 94.69,309.60 93.31,308.63 95.00,308.65" fill="#000" stroke="#000" stroke-width="0.3" stroke-linejoin="miter"/>
<polygon points="100.50,307.04 101.00,308.65 102.69,308.63 101.31,309.60 101.85,311.20 100.50,310.19 99.15,311.20 99.69,309.60 98.31,308.63 100.00,308.65" fill="#000" stroke="#000" stroke-width="0.3" stroke-linejoin="miter"/>
<line x1="174.20" y1="341.40" x2="244.80" y2="341.40" stroke="#000" stroke-width="1.3" stroke-linecap="butt"/>
<line x1="208.80" y1="341.40" x2="208.80" y2="344.50" stroke="#000" stroke-width="1.2" stroke-linecap="butt"/>
<line x1="226.40" y1="341.40" x2="226.40" y2="344.50" stroke="#000" stroke-width="1.2" stroke-linecap="butt"/>
<line x1="244.20" y1="341.40" x2="244.20" y2="344.50" stroke="#000" stroke-width="1.2" stroke-linecap="butt"/>
<polygon points="203.70,336.04 204.20,337.65 205.89,337.63 204.51,338.60 205.05,340.20 203.70,339.19 202.35,340.20 202.89,338.60 201.51,337.63 203.20,337.65" fill="#000" stroke="#000" stroke-width="0.3" stroke-linejoin="miter"/>
<polygon points="208.70,336.04 209.20,337.65 210.89,337.63 209.51,338.60 210.05,340.20 208.70,339.19 207.35,340.20 207.89,338.60 206.51,337.63 208.20,337.65" fill="#000" stroke="#000" stroke-width="0.3" stroke-linejoin="miter"/>
<polygon points="213.70,336.04 214.20,337.65 215.89,337.63 214.51,338.60 215.05,340.20 213.70,339.19 212.35,340.20 212.89,338.60 211.51,337.63 213.20,337.65" fill="#000" stroke="#000" stroke-width="0.3" stroke-linejoin="miter"/>
<line x1="327.60" y1="279.75" x2="327.60" y2="388.00" stroke="#000" stroke-width="1.2" stroke-linecap="butt"/>
<line x1="327.00" y1="387.40" x2="415.00" y2="387.40" stroke="#000" stroke-width="1.2" stroke-linecap="butt"/>
<line x1="323.80" y1="387.40" x2="327.60" y2="387.40" stroke="#000" stroke-width="1.2" stroke-linecap="butt"/>
<text x="321.40" y="391.15" font-size="12.1" text-anchor="end" font-weight="normal" font-style="normal">0</text>
<line x1="323.80" y1="351.75" x2="327.60" y2="351.75" stroke="#000" stroke-width="1.2" stroke-linecap="butt"/>
<text x="321.40" y="355.50" font-size="12.1" text-anchor="end" font-weight="normal" font-style="normal">5</text>
<line x1="323.80" y1="316.10" x2="327.60" y2="316.10" stroke="#000" stroke-width="1.2" stroke-linecap="butt"/>
<text x="321.40" y="319.85" font-size="12.1" text-anchor="end" font-weight="normal" font-style="normal">10</text>
<line x1="323.80" y1="280.35" x2="327.60" y2="280.35" stroke="#000" stroke-width="1.2" stroke-linecap="butt"/>
<text x="321.40" y="284.10" font-size="12.1" text-anchor="end" font-weight="normal" font-style="normal">15</text>
<line x1="336.60" y1="317.00" x2="336.60" y2="318.75" stroke="#000" stroke-width="1.2" stroke-linecap="butt"/>
<line x1="333.45" y1="317.00" x2="339.75" y2="317.00" stroke="#000" stroke-width="1.3" stroke-linecap="butt"/>
<rect x="330.80" y="318.85" width="11.60" height="68.55" fill="#000000" stroke="#000" stroke-width="1.1"/>
<line x1="354.05" y1="341.90" x2="354.05" y2="361.60" stroke="#000" stroke-width="1.2" stroke-linecap="butt"/>
<line x1="350.90" y1="341.90" x2="357.20" y2="341.90" stroke="#000" stroke-width="1.3" stroke-linecap="butt"/>
<rect x="348.25" y="361.70" width="11.60" height="25.70" fill="#ffffff" stroke="#000" stroke-width="1.1"/>
<line x1="371.50" y1="337.30" x2="371.50" y2="355.00" stroke="#000" stroke-width="1.2" stroke-linecap="butt"/>
<line x1="368.35" y1="337.30" x2="374.65" y2="337.30" stroke="#000" stroke-width="1.3" stroke-linecap="butt"/>
<rect x="365.70" y="355.10" width="11.60" height="32.30" fill="#d2d2d2" stroke="#000" stroke-width="1.1"/>
<line x1="388.95" y1="340.40" x2="388.95" y2="353.00" stroke="#000" stroke-width="1.2" stroke-linecap="butt"/>
<line x1="385.80" y1="340.40" x2="392.10" y2="340.40" stroke="#000" stroke-width="1.3" stroke-linecap="butt"/>
<rect x="383.15" y="353.10" width="11.60" height="34.30" fill="#a3a3a3" stroke="#000" stroke-width="1.1"/>
<line x1="406.40" y1="331.20" x2="406.40" y2="348.30" stroke="#000" stroke-width="1.2" stroke-linecap="butt"/>
<line x1="403.25" y1="331.20" x2="409.55" y2="331.20" stroke="#000" stroke-width="1.3" stroke-linecap="butt"/>
<rect x="400.60" y="348.40" width="11.60" height="39.00" fill="#6b6b6b" stroke="#000" stroke-width="1.1"/>
<line x1="327.00" y1="387.40" x2="415.00" y2="387.40" stroke="#000" stroke-width="1.2" stroke-linecap="butt"/>
<text x="371.20" y="398.65" font-size="12.6" text-anchor="middle" font-weight="normal" font-style="normal">Day 15</text>
<text x="290.50" y="336.30" font-size="12.5" text-anchor="middle" font-weight="normal" font-style="normal" transform="rotate(-90 290.50 336.30)">Erythrocytes</text>
<text x="306.50" y="333.90" font-size="12.799999999999999" text-anchor="middle" font-weight="normal" font-style="normal" transform="rotate(-90 306.50 333.90)" letter-spacing="0.15">(x10<tspan font-size="5.9" dy="-5.9" letter-spacing="0">12</tspan><tspan dy="5.9">/L)</tspan></text>
<line x1="335.90" y1="307.00" x2="406.90" y2="307.00" stroke="#000" stroke-width="1.3" stroke-linecap="butt"/>
<line x1="354.10" y1="307.00" x2="354.10" y2="309.90" stroke="#000" stroke-width="1.2" stroke-linecap="butt"/>
<line x1="371.40" y1="307.00" x2="371.40" y2="309.90" stroke="#000" stroke-width="1.2" stroke-linecap="butt"/>
<line x1="389.00" y1="307.00" x2="389.00" y2="309.90" stroke="#000" stroke-width="1.2" stroke-linecap="butt"/>
<line x1="406.30" y1="307.00" x2="406.30" y2="309.90" stroke="#000" stroke-width="1.2" stroke-linecap="butt"/>
<polygon points="366.70,300.54 367.20,302.15 368.89,302.13 367.51,303.10 368.05,304.70 366.70,303.69 365.35,304.70 365.89,303.10 364.51,302.13 366.20,302.15" fill="#000" stroke="#000" stroke-width="0.3" stroke-linejoin="miter"/>
<polygon points="371.70,300.54 372.20,302.15 373.89,302.13 372.51,303.10 373.05,304.70 371.70,303.69 370.35,304.70 370.89,303.10 369.51,302.13 371.20,302.15" fill="#000" stroke="#000" stroke-width="0.3" stroke-linejoin="miter"/>
<polygon points="376.70,300.54 377.20,302.15 378.89,302.13 377.51,303.10 378.05,304.70 376.70,303.69 375.35,304.70 375.89,303.10 374.51,302.13 376.20,302.15" fill="#000" stroke="#000" stroke-width="0.3" stroke-linejoin="miter"/>
<text x="279.40" y="278.40" font-size="14.2" text-anchor="start" font-weight="bold" font-style="normal">B</text>
<rect x="457.4" y="282.70" width="12.2" height="10.4" fill="#000000" stroke="#000" stroke-width="1.1"/>
<text x="474.40" y="293.10" font-size="13.3" text-anchor="start" font-weight="normal" font-style="normal">Control</text>
<rect x="457.4" y="296.90" width="12.2" height="10.4" fill="#ffffff" stroke="#000" stroke-width="1.1"/>
<text x="474.40" y="307.30" font-size="13.3" text-anchor="start" font-weight="normal" font-style="normal">[B/+]</text>
<rect x="457.4" y="311.50" width="12.2" height="10.4" fill="#d2d2d2" stroke="#000" stroke-width="1.1"/>
<text x="474.40" y="321.90" font-size="13.3" text-anchor="start" font-weight="normal" font-style="normal">[B/B]</text>
<rect x="457.4" y="326.00" width="12.2" height="10.4" fill="#a3a3a3" stroke="#000" stroke-width="1.1"/>
<text x="474.40" y="336.40" font-size="13.3" text-anchor="start" font-weight="normal" font-style="normal">[D/+]</text>
<rect x="457.4" y="340.90" width="12.2" height="10.4" fill="#6b6b6b" stroke="#000" stroke-width="1.1"/>
<text x="474.40" y="351.30" font-size="13.3" text-anchor="start" font-weight="normal" font-style="normal">[D/D]</text>
<text x="460.00" y="368.20" font-size="12.7" text-anchor="end" font-weight="normal" font-style="normal" stroke-width="0.3">*</text>
<text x="460.00" y="368.20" font-size="12.6" text-anchor="start" font-weight="normal" font-style="normal"><tspan font-style="italic">P</tspan> &lt;0.05</text>
<text x="460.00" y="379.20" font-size="12.7" text-anchor="end" font-weight="normal" font-style="normal" stroke-width="0.3">**</text>
<text x="460.00" y="379.20" font-size="12.6" text-anchor="start" font-weight="normal" font-style="normal"><tspan font-style="italic">P</tspan> &lt;0.01</text>
<text x="460.00" y="390.70" font-size="12.7" text-anchor="end" font-weight="normal" font-style="normal" stroke-width="0.3">***</text>
<text x="460.00" y="390.70" font-size="12.6" text-anchor="start" font-weight="normal" font-style="normal"><tspan font-style="italic">P</tspan> &lt;0.001</text>
</g></svg>
</body></html>
